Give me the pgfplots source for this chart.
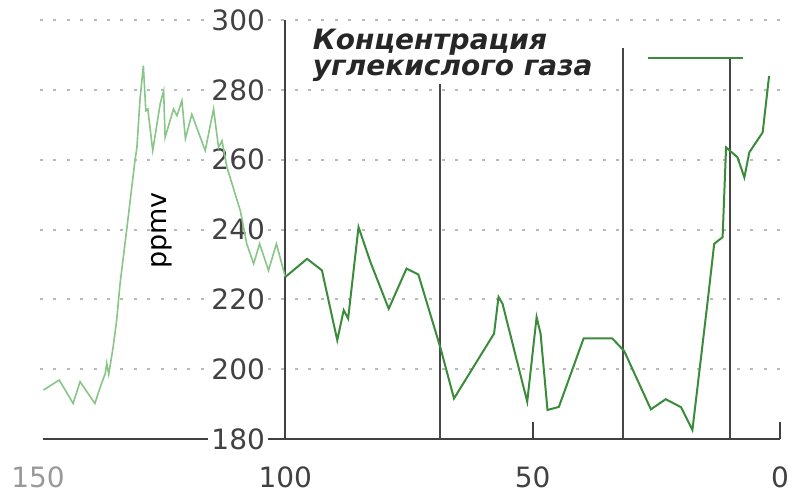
\documentclass[border=0pt]{standalone}
\usepackage{pgfplots}
\pgfplotsset{compat=1.18}
\usepackage{pgfplotstable}
\usepackage{fontspec}
\setmainfont{DejaVu Sans}[ItalicFont={DejaVu Sans Oblique},BoldItalicFont={DejaVu Sans Bold Oblique}]
\definecolor{co2dark}{RGB}{58,140,58}
\definecolor{co2light}{RGB}{135,198,135}
\definecolor{axgray}{RGB}{65,65,65}
\definecolor{gridgray}{RGB}{185,185,185}

% thousand years ago, ppmv (older part, drawn faded)
\pgfplotstableread{
x y
148.9 194.0
145.7 196.9
142.9 190.2
141.5 196.4
138.5 190.2
137.4 194.9
136.4 198.8
136.1 201.7
135.7 198.5
135.3 202.0
134.8 206.4
134.1 214.0
133.4 224.6
132.0 240.7
130.4 259.7
130.0 263.5
129.4 276.9
128.7 286.9
128.2 274.0
127.8 274.5
126.8 262.6
125.3 276.0
124.6 279.7
124.3 266.4
122.6 274.5
121.9 272.6
120.9 276.9
120.2 266.0
118.9 273.0
116.2 262.6
114.5 274.5
113.5 263.5
112.8 265.4
111.8 257.8
109.1 245.4
107.8 235.9
106.4 230.2
105.2 235.9
103.4 228.3
101.8 235.9
100.0 226.4
}\oldpart

% last 100 thousand years
\pgfplotstableread{
x y
100.0 226.4
95.6 231.6
92.6 228.3
89.5 208.3
88.2 216.9
87.3 214.5
85.2 240.7
82.8 230.7
79.1 217.3
75.5 228.8
73.1 227.1
68.6 205.9
65.9 191.6
57.8 210.2
56.9 220.7
56.1 218.8
51.1 190.7
49.2 214.9
48.4 210.2
47.0 188.3
44.7 189.2
39.7 208.8
33.9 208.8
31.5 205.2
26.1 188.5
23.1 191.4
20.0 189.1
17.7 182.6
14.6 219.7
13.3 235.9
11.6 237.8
10.9 263.5
8.6 260.7
7.2 254.9
6.2 262.1
3.5 267.8
2.2 284.0
}\newpart

\begin{document}
\begin{tikzpicture}
\begin{axis}[
  at={(0,0)}, anchor=south west,
  scale only axis, width=371pt, height=209.5pt,
  xmin=0, xmax=150, x dir=reverse,
  ymin=180, ymax=300,
  axis line style={draw=none},
  xtick=\empty,
  ytick={200,220,...,300}, yticklabels={},
  tick style={draw=none},
  ymajorgrids,
  grid style={gridgray, line width=1pt, dash pattern=on 1.5pt off 5.2pt},
  clip=false,
]
% axis lines and separators
\draw[axgray, line width=1pt] (axis cs:149,180) -- (axis cs:0,180);
\draw[axgray, line width=1pt] (axis cs:100,180) -- (axis cs:100,300);
\draw[axgray, line width=1pt] (axis cs:50,180) -- (axis cs:50,185);
\draw[axgray, line width=1pt] (axis cs:0,180) -- (axis cs:0,185);

% y tick labels sit on the axis at 100, over the grid
\pgfplotsinvokeforeach{180,200,220,240,260,280,300}{
  \node[fill=white, inner sep=1.5pt, anchor=east, text=axgray,
        font=\fontsize{14}{16}\selectfont] at (axis cs:100,#1) [xshift=-8.5pt] {#1};
}

\draw[gray!55!black, line width=1pt] (axis cs:68.8,180) -- (axis cs:68.8,281.7);
\draw[gray!55!black, line width=1pt] (axis cs:31.7,180) -- (axis cs:31.7,292);
\draw[gray!55!black, line width=1pt] (axis cs:10.1,180) -- (axis cs:10.1,289.1);

\addplot[co2light, line width=0.8pt] table[x=x, y=y] {\oldpart};
\addplot[co2dark, line width=1pt] table[x=x, y=y] {\newpart};

% legend sample
\addplot[co2dark, line width=1pt] coordinates {(26.7,289.1) (7.5,289.1)};

\node[text=gray!80, font=\fontsize{14}{16}\selectfont] at (axis cs:150,180) [yshift=-19pt] {150};
\node[text=axgray, font=\fontsize{14}{16}\selectfont] at (axis cs:100,180) [yshift=-19pt] {100};
\node[text=axgray, font=\fontsize{14}{16}\selectfont] at (axis cs:50,180) [yshift=-19pt] {50};
\node[text=axgray, font=\fontsize{14}{16}\selectfont] at (axis cs:0,180) [yshift=-19pt] {0};
\node[rotate=90, text=black, font=\fontsize{13.5}{16}\selectfont] at (axis cs:124.9,239.7) {ppmv};
\node[anchor=north west, inner sep=0pt, align=left, text=black!85,
      font=\fontsize{14}{12.6}\selectfont\bfseries\itshape]
  at (axis cs:94.5,297.4) {Концентрация\\углекислого газа};
\end{axis}
\pgfresetboundingbox
\path[use as bounding box] (-19pt,-27pt) rectangle (381pt,219.5pt);
\end{tikzpicture}
\end{document}
